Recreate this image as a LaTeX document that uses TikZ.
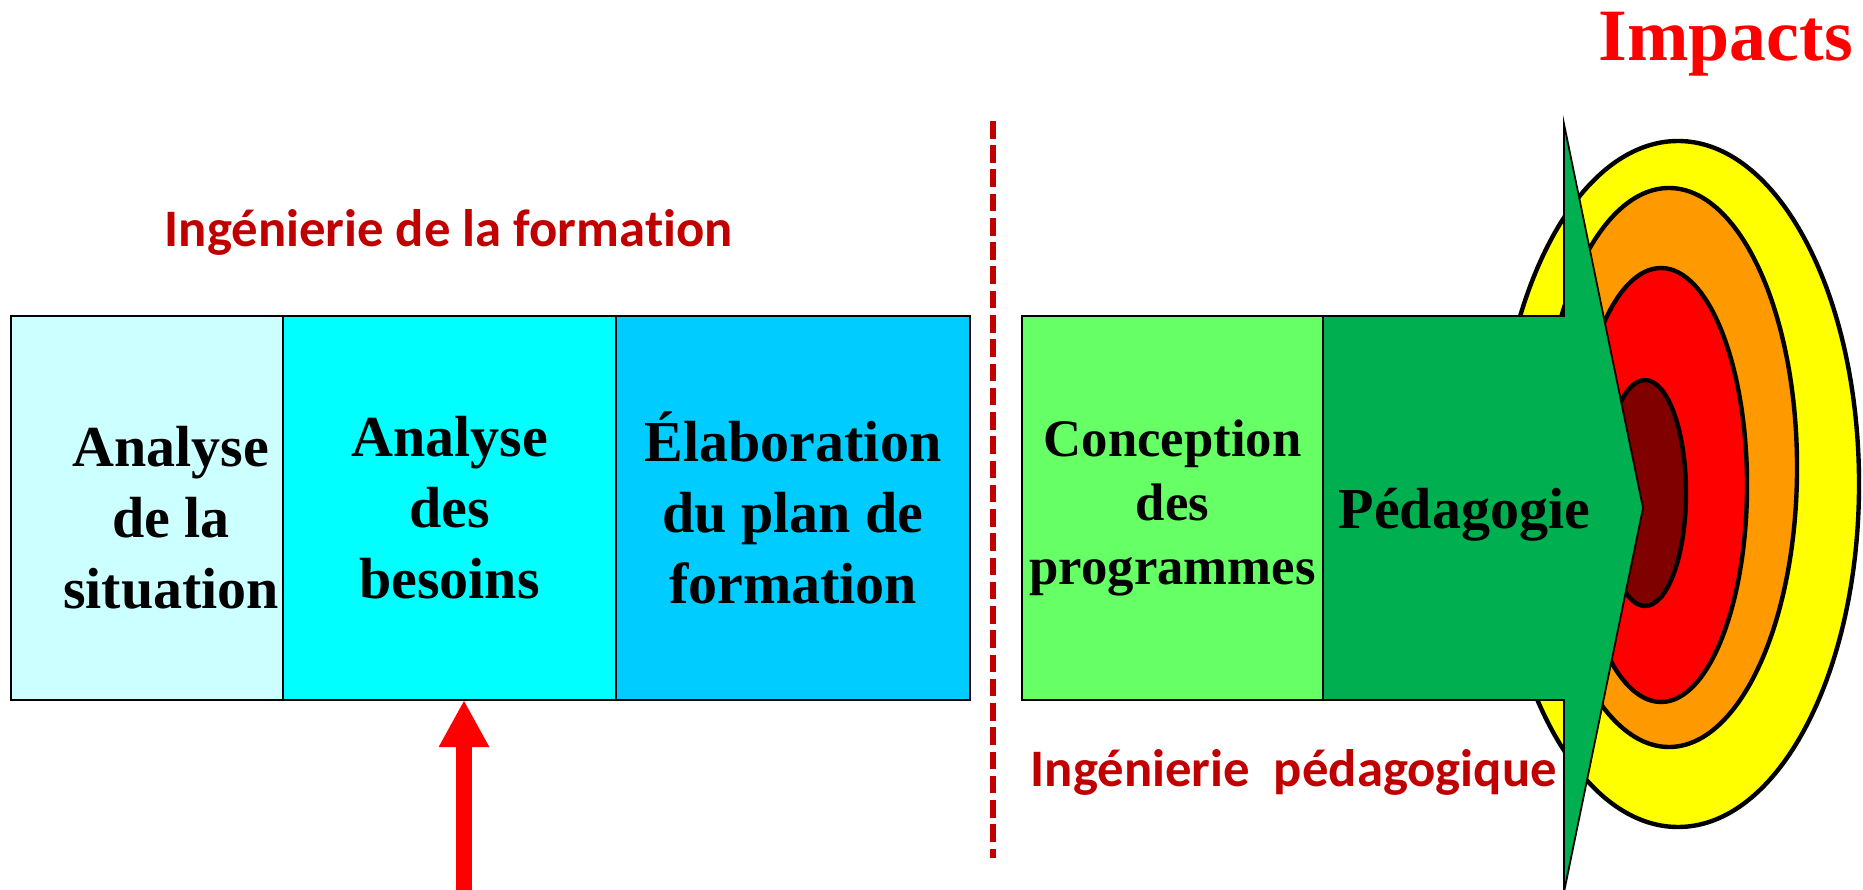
\documentclass[tikz,border=0pt]{standalone}
\usepackage{fontspec}
\setmainfont{Liberation Serif}
\newfontfamily\phasefont[Ligatures=NoCommon]{Carlito}
\usepackage{xcolor}
\usepackage{tikz}
\usetikzlibrary{arrows.meta,positioning}
\definecolor{cellA}{HTML}{CCFFFF}
\definecolor{cellB}{HTML}{00FFFF}
\definecolor{cellC}{HTML}{00CCFF}
\definecolor{progA}{HTML}{66FF66}
\definecolor{pedgreen}{HTML}{00B050}
\definecolor{ringY}{HTML}{FFFF00}
\definecolor{ringO}{HTML}{FF9900}
\definecolor{ringR}{HTML}{FF0000}
\definecolor{ringD}{HTML}{800000}
\definecolor{labred}{HTML}{C00000}

\begin{document}
\begin{tikzpicture}[
  cell/.style={draw, line width=0.5pt, minimum height=3.84cm, inner sep=0pt,
    outer sep=0pt, align=center, font=\bfseries\fontsize{16.5}{20.2}\selectfont},
  prog/.style={cell, font=\bfseries\fontsize{15}{18.2}\selectfont},
  phase/.style={font=\phasefont\bfseries\fontsize{15}{18}\selectfont,
    text=labred, inner sep=0pt, anchor=base west},
  ring/.style={draw, line width=1.25pt},
  bigarr/.style={-{Triangle[width=13.4pt, length=13.4pt]}, line width=4.55pt, red},
  >=Stealth
]
  \useasboundingbox (0,0) rectangle (18.63,-8.90);

  % targets (under the arrow)
  \draw[ring, fill=ringY] (16.78,-4.84) ellipse [x radius=1.81, y radius=3.43];
  \draw[ring, fill=ringO] (16.69,-4.675) ellipse [x radius=1.28, y radius=2.795];
  \draw[ring, fill=ringR] (16.61,-4.85) ellipse [x radius=0.86, y radius=2.17];
  \draw[ring, fill=ringD] (16.45,-4.93) ellipse [x radius=0.41, y radius=1.13];

  % Ingenierie de la formation (left)
  \node[cell, fill=cellA, minimum width=2.72cm] (situation) at (1.47,-5.08) {};
  \node[cell, fill=cellB, minimum width=3.33cm, right=0pt of situation] (besoins)
    {Analyse\\des\\besoins};
  \node[cell, fill=cellC, minimum width=3.54cm, right=0pt of besoins] (plan)
    {Élaboration\\du plan de\\formation};
  \node[align=center, inner sep=0pt, font=\bfseries\fontsize{16.5}{20.2}\selectfont]
    (situationtxt) at (1.71,-5.18) {Analyse\\de la\\situation};
  \node[phase] (formlabel) at (1.64,-2.47) {Ingénierie de la formation};

  % separator
  \coordinate (septop) at (9.93,-1.21);
  \coordinate (sepbot) at (9.93,-8.58);
  \draw[labred, line width=1.5pt, dash pattern=on 5pt off 1.9pt] (septop) -- (sepbot);

  % Ingenierie pedagogique (right)
  \node[prog, fill=progA, minimum width=3.01cm, right=0.52cm of plan] (programmes)
    {Conception\\des\\programmes};
  \draw[fill=pedgreen, line width=0.5pt] (programmes.north east) -- (15.64,-3.16)
    -- (15.64,-1.24) -- (16.43,-5.08) -- (15.64,-8.92) -- (15.64,-7.00)
    -- (programmes.south east) -- cycle;
  \node[anchor=base west, inner sep=0pt, font=\bfseries\fontsize{16.5}{20.2}\selectfont]
    (pedagogie) at (13.38,-5.29) {Pédagogie};
  \node[phase] (pedlabel) at (10.30,-7.86) {Ingénierie\ \ pédagogique};

  \node[anchor=base west, inner sep=0pt, text=red,
    font=\bfseries\fontsize{21}{25}\selectfont] (impacts) at (15.98,-0.61) {Impacts};

  % besoins arrow
  \coordinate (needs) at (4.64,-8.90);
  \draw[bigarr] (needs) -- (needs |- besoins.south);
\end{tikzpicture}
\end{document}
